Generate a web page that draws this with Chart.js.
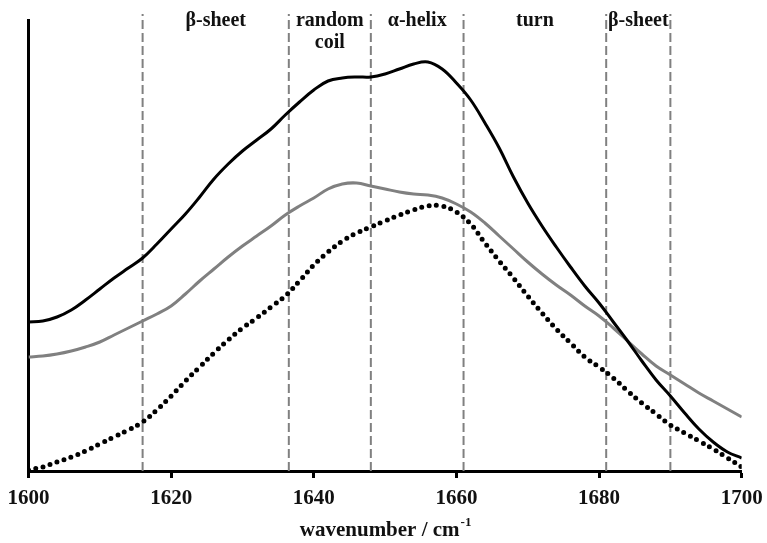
<!DOCTYPE html>
<html>
<head>
<meta charset="utf-8">
<script src="https://cdn.jsdelivr.net/npm/chart.js@4/dist/chart.umd.min.js"></script>
<style>
html,body{margin:0;padding:0;background:#fff;}
#wrap{width:767px;height:543px;position:relative;}
</style>
</head>
<body>
<div id="wrap"><canvas id="c" width="767" height="543"></canvas></div>
<script>
// ---- data ----
const wavenumbers = [1600,1602,1604,1606,1608,1610,1612,1614,1616,1618,1620,1622,1624,1626,1628,1630,1632,1634,1636,1638,1640,1642,1644,1646,1648,1650,1652,1654,1656,1658,1660,1662,1664,1666,1668,1670,1672,1674,1676,1678,1680,1682,1684,1686,1688,1690,1692,1694,1696,1698,1700];
const blackSpectrum = [149,150,154,161,171,182,193,203,213,227,242,257,274,292,307,320,331,342,356,369,381,390,393,394,394,397,402,407,409,402,388,371,348,323,294,268,245,224,204,185,168,149,130,110,91,75,58,42,29,19,13];
const graySpectrum = [114,115,117,120,124,129,136,143,150,157,165,177,190,202,214,225,235,245,256,265,273,282,287,288,285,282,279,277,276,273,267,259,248,235,222,209,197,186,176,165,155,143,130,117,105,96,87,78,70,62,54];
const dottedSpectrum = [1,4,9,14,20,27,34,41,49,61,75,90,104,118,131,143,153,164,175,190,206,219,230,238,244,250,256,261,265,265,259,247,228,210,193,175,158,142,128,114,104,93,80,68,57,46,38,30,22,13,4];
const regionBounds = [1616, 1636.5, 1648, 1661, 1681, 1690];
const regionLabels = [["β-sheet"], ["random", "coil"], ["α-helix"], ["turn"], ["β-sheet"]];
const xTicks = [1600, 1620, 1640, 1660, 1680, 1700];
const xTitle = "wavenumber / cm";
const xTitleSup = "-1";
const yMax = 451;
const dashTop = 457;

// ---- build ----
const FONT = "'Liberation Serif', 'Times New Roman', serif";
function pts(arr){ return wavenumbers.map((w,i)=>({x:w,y:arr[i]})); }

const datasets = [];
regionBounds.forEach(b=>{
  datasets.push({
    data:[{x:b,y:0},{x:b,y:dashTop}],
    borderColor:'#808080', borderWidth:2, borderDash:[9,4],
    pointRadius:0, tension:0, clip:false, order:5
  });
});
datasets.push({data:pts(graySpectrum), borderColor:'#808080', borderWidth:3, pointRadius:0, tension:0.4, order:2});
datasets.push({data:pts(dottedSpectrum), borderColor:'#000', borderWidth:5, borderDash:[0,7.4], borderCapStyle:'round', pointRadius:0, tension:0.4, order:3});
datasets.push({data:pts(blackSpectrum), borderColor:'#000', borderWidth:3, pointRadius:0, tension:0.4, order:1});

const labelPlugin = {
  id:'labels',
  afterDraw(chart){
    const ctx = chart.ctx, xs = chart.scales.x, ca = chart.chartArea;
    ctx.save();
    ctx.fillStyle = '#111';
    ctx.textAlign = 'center';
    ctx.textBaseline = 'middle';
    ctx.font = "bold 20px " + FONT;
    regionLabels.forEach((lines,i)=>{
      const cx = (xs.getPixelForValue(regionBounds[i]) + xs.getPixelForValue(regionBounds[i+1]))/2;
      lines.forEach((t,j)=>{ ctx.fillText(t, cx, 21 + j*22); });
    });
    // axis title with superscript
    ctx.font = "bold 21px " + FONT;
    const w1 = ctx.measureText(xTitle).width;
    ctx.font = "bold 13px " + FONT;
    const w2 = ctx.measureText(xTitleSup).width;
    const cx = (ca.left + ca.right)/2;
    const x0 = cx - (w1+w2)/2;
    ctx.textAlign = 'left';
    ctx.textBaseline = 'alphabetic';
    ctx.font = "bold 21px " + FONT;
    ctx.fillText(xTitle, x0, 536);
    ctx.font = "bold 13px " + FONT;
    ctx.fillText(xTitleSup, x0 + w1 + 1, 526);
    ctx.restore();
  }
};

new Chart(document.getElementById('c'), {
  type:'line',
  data:{datasets},
  options:{
    responsive:false, animation:false,
    layout:{padding:{left:28.5, right:25.3, top:20, bottom:0}},
    plugins:{legend:{display:false}, tooltip:{enabled:false}},
    scales:{
      x:{
        type:'linear', min:1600, max:1700,
        afterBuildTicks(s){ s.ticks = xTicks.map(v=>({value:v})); },
        afterFit(s){ s.height = 72; s.paddingLeft = 0; s.paddingRight = 0; },
        grid:{display:true, drawOnChartArea:false, drawTicks:true, tickLength:7, tickWidth:3, tickColor:'#000'},
        border:{display:true, color:'#000', width:3},
        ticks:{color:'#111', font:{family:FONT, size:21, weight:'bold'}, padding:8, maxRotation:0, autoSkip:false,
               callback:(v)=>String(v)}
      },
      y:{
        type:'linear', min:0, max:yMax,
        afterFit(s){ s.width = 0; },
        grid:{display:false, drawTicks:false},
        border:{display:true, color:'#000', width:3},
        ticks:{display:false}
      }
    }
  },
  plugins:[labelPlugin]
});
</script>
</body>
</html>
